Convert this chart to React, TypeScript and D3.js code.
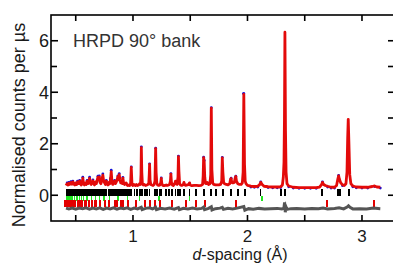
import React, { useEffect, useRef } from "react";
import * as d3 from "d3";

// calculated profile [d-spacing, counts]
const calcProfile: [number, number][] = [
  [0.415, 0.38], [0.425, 0.45], [0.432, 0.4], [0.44, 0.47], [0.448, 0.42], [0.458, 0.5], [0.466, 0.43],
  [0.475, 0.52], [0.483, 0.44], [0.492, 0.4], [0.5, 0.48], [0.508, 0.42], [0.516, 0.52], [0.524, 0.45],
  [0.534, 0.55], [0.541, 0.44], [0.549, 0.4], [0.556, 0.5], [0.562, 0.66], [0.568, 0.45], [0.576, 0.4],
  [0.584, 0.48], [0.592, 0.42], [0.6, 0.55], [0.607, 0.45], [0.614, 0.52], [0.621, 0.66], [0.627, 0.48],
  [0.634, 0.42], [0.642, 0.5], [0.65, 0.56], [0.657, 0.44], [0.664, 0.4], [0.672, 0.52], [0.68, 0.45],
  [0.688, 0.6], [0.694, 0.7], [0.7, 0.62], [0.706, 0.71], [0.712, 0.5], [0.72, 0.45], [0.728, 0.6],
  [0.737, 0.78], [0.744, 0.55], [0.752, 0.48], [0.76, 0.42], [0.767, 0.55], [0.774, 0.45], [0.782, 0.4],
  [0.79, 0.5], [0.798, 0.45], [0.804, 0.62], [0.81, 0.92], [0.816, 0.55], [0.823, 0.42], [0.831, 0.48],
  [0.839, 0.55], [0.846, 0.45], [0.853, 0.5], [0.861, 0.6], [0.868, 0.72], [0.874, 0.6], [0.88, 0.8],
  [0.886, 0.62], [0.893, 0.48], [0.9, 0.55], [0.907, 0.45], [0.912, 0.66], [0.918, 0.48], [0.925, 0.42],
  [0.933, 0.45], [0.941, 0.48], [0.948, 0.4], [0.956, 0.38], [0.965, 0.4], [0.972, 0.38], [0.979, 0.42],
  [0.985, 1.08], [0.991, 0.45], [0.998, 0.38], [1.007, 0.42], [1.014, 0.4], [1.022, 0.38], [1.03, 0.42],
  [1.04, 0.38], [1.05, 0.4], [1.058, 0.45], [1.066, 0.42], [1.07, 0.8], [1.073, 1.85], [1.077, 0.9],
  [1.082, 0.45], [1.09, 0.4], [1.1, 0.42], [1.11, 0.38], [1.121, 0.4], [1.13, 0.42], [1.138, 0.45],
  [1.142, 0.8], [1.145, 1.2], [1.149, 0.6], [1.155, 0.42], [1.165, 0.4], [1.175, 0.38], [1.185, 0.42],
  [1.192, 0.55], [1.195, 1.2], [1.198, 1.81], [1.202, 0.9], [1.208, 0.48], [1.215, 0.4], [1.225, 0.38],
  [1.235, 0.4], [1.243, 0.5], [1.247, 0.65], [1.252, 0.45], [1.26, 0.38], [1.27, 0.37], [1.28, 0.38],
  [1.29, 0.4], [1.3, 0.38], [1.31, 0.4], [1.32, 0.42], [1.327, 0.55], [1.331, 0.82], [1.336, 0.5],
  [1.343, 0.4], [1.352, 0.38], [1.36, 0.42], [1.367, 0.48], [1.371, 0.55], [1.376, 0.45], [1.385, 0.42],
  [1.393, 0.7], [1.397, 1.5], [1.401, 0.95], [1.407, 0.45], [1.415, 0.4], [1.425, 0.38], [1.44, 0.42],
  [1.445, 0.5], [1.45, 0.42], [1.46, 0.38], [1.475, 0.4], [1.489, 0.42], [1.494, 0.48], [1.499, 0.4],
  [1.515, 0.37], [1.535, 0.38], [1.555, 0.38], [1.575, 0.37], [1.595, 0.38], [1.608, 0.42], [1.613, 0.75],
  [1.617, 1.46], [1.622, 1.3], [1.627, 0.7], [1.633, 0.46], [1.64, 0.45], [1.648, 0.5], [1.66, 0.42],
  [1.672, 0.45], [1.679, 0.8], [1.684, 3.38], [1.689, 1.0], [1.696, 0.48], [1.705, 0.42], [1.72, 0.4],
  [1.735, 0.4], [1.75, 0.4], [1.765, 0.42], [1.775, 0.55], [1.78, 1.45], [1.785, 0.9], [1.792, 0.48],
  [1.8, 0.45], [1.815, 0.42], [1.83, 0.4], [1.845, 0.45], [1.852, 0.62], [1.857, 0.65], [1.863, 0.5],
  [1.872, 0.48], [1.885, 0.5], [1.893, 0.68], [1.898, 0.73], [1.904, 0.55], [1.915, 0.45], [1.93, 0.42],
  [1.945, 0.42], [1.955, 0.48], [1.962, 0.9], [1.968, 3.92], [1.974, 1.2], [1.98, 0.55], [1.987, 0.45],
  [2.0, 0.38], [2.03, 0.35], [2.06, 0.34], [2.09, 0.35], [2.105, 0.4], [2.116, 0.5], [2.128, 0.42],
  [2.145, 0.35], [2.18, 0.33], [2.22, 0.32], [2.26, 0.32], [2.29, 0.33], [2.305, 0.4], [2.313, 0.7],
  [2.319, 1.3], [2.323, 3.0], [2.327, 6.33], [2.332, 2.5], [2.337, 0.9], [2.345, 0.45], [2.36, 0.36],
  [2.4, 0.31], [2.45, 0.3], [2.5, 0.3], [2.55, 0.3], [2.6, 0.3], [2.63, 0.32], [2.645, 0.4], [2.655, 0.5],
  [2.665, 0.42], [2.68, 0.38], [2.7, 0.35], [2.73, 0.31], [2.76, 0.31], [2.778, 0.38], [2.79, 0.65],
  [2.796, 0.75], [2.803, 0.62], [2.815, 0.48], [2.83, 0.4], [2.845, 0.38], [2.86, 0.45], [2.869, 0.9],
  [2.875, 2.2], [2.88, 2.95], [2.886, 2.0], [2.893, 0.8], [2.903, 0.45], [2.92, 0.36], [2.95, 0.32],
  [3.0, 0.31], [3.05, 0.31], [3.09, 0.34], [3.11, 0.36], [3.13, 0.32], [3.16, 0.31],
];

// observed points (drawn as dots under the fit)
const obsPoints: [number, number][] = [
  [0.425, 0.48], [0.44, 0.5], [0.458, 0.53], [0.475, 0.55], [0.516, 0.55], [0.534, 0.58], [0.562, 0.7],
  [0.6, 0.58], [0.621, 0.7], [0.65, 0.6], [0.694, 0.74], [0.706, 0.75], [0.737, 0.83], [0.767, 0.58],
  [0.804, 0.65], [0.81, 0.97], [0.839, 0.58], [0.868, 0.75], [0.88, 0.84], [0.912, 0.69], [0.985, 1.1],
  [1.073, 1.88], [1.145, 1.22], [1.198, 1.83], [1.247, 0.67], [1.331, 0.84], [1.397, 1.52], [1.494, 0.46],
  [1.617, 1.48], [1.622, 1.35], [1.684, 3.4], [1.78, 1.47], [1.857, 0.66], [1.898, 0.74], [1.966, 3.95],
  [1.968, 3.95], [2.03, 0.32], [2.06, 0.31], [2.09, 0.32], [2.116, 0.52], [2.18, 0.3], [2.22, 0.29],
  [2.26, 0.29], [2.29, 0.3], [2.36, 0.33], [2.4, 0.28], [2.45, 0.27], [2.5, 0.27], [2.55, 0.27],
  [2.6, 0.27], [2.655, 0.52], [2.7, 0.32], [2.73, 0.28], [2.76, 0.28], [2.796, 0.77], [2.83, 0.37],
  [2.92, 0.33], [2.95, 0.29], [3.0, 0.28], [3.05, 0.28], [3.11, 0.34], [3.16, 0.28],
];

// difference curve (obs - calc, offset)
const diffProfile: [number, number][] = [
  [0.415, -0.5], [0.44, -0.53], [0.47, -0.5], [0.5, -0.54], [0.53, -0.5], [0.56, -0.52], [0.59, -0.49],
  [0.62, -0.54], [0.65, -0.5], [0.68, -0.53], [0.71, -0.49], [0.74, -0.55], [0.77, -0.5], [0.8, -0.53],
  [0.83, -0.49], [0.86, -0.54], [0.89, -0.5], [0.92, -0.52], [0.95, -0.49], [0.98, -0.55], [1.01, -0.5],
  [1.04, -0.53], [1.072, -0.47], [1.08, -0.56], [1.11, -0.51], [1.145, -0.49], [1.17, -0.53],
  [1.198, -0.47], [1.205, -0.56], [1.24, -0.51], [1.28, -0.53], [1.32, -0.5], [1.36, -0.54],
  [1.397, -0.48], [1.405, -0.56], [1.44, -0.51], [1.48, -0.53], [1.52, -0.5], [1.56, -0.53], [1.6, -0.51],
  [1.617, -0.46], [1.625, -0.56], [1.66, -0.51], [1.684, -0.45], [1.69, -0.57], [1.72, -0.52],
  [1.76, -0.5], [1.78, -0.47], [1.79, -0.55], [1.83, -0.51], [1.87, -0.53], [1.91, -0.5], [1.968, -0.44],
  [1.977, -0.58], [2.01, -0.52], [2.05, -0.54], [2.1, -0.51], [2.15, -0.53], [2.2, -0.52], [2.26, -0.51],
  [2.3, -0.53], [2.318, -0.5], [2.324, -0.28], [2.33, -0.66], [2.336, -0.45], [2.345, -0.55],
  [2.38, -0.52], [2.43, -0.51], [2.5, -0.53], [2.56, -0.51], [2.62, -0.52], [2.66, -0.5], [2.7, -0.53],
  [2.76, -0.51], [2.8, -0.49], [2.84, -0.53], [2.87, -0.46], [2.882, -0.41], [2.895, -0.47],
  [2.92, -0.53], [2.98, -0.52], [3.04, -0.53], [3.1, -0.5], [3.16, -0.52],
];

// reflection positions for the three phases
const blackTicks = [
  0.42, 0.428, 0.437, 0.445, 0.452, 0.461, 0.47, 0.478, 0.487, 0.495, 0.503, 0.512, 0.52, 0.529, 0.538,
  0.546, 0.555, 0.563, 0.571, 0.58, 0.589, 0.597, 0.606, 0.614, 0.623, 0.631, 0.64, 0.648, 0.657, 0.665,
  0.674, 0.683, 0.691, 0.7, 0.708, 0.717, 0.725, 0.734, 0.742, 0.751, 0.76, 0.768, 0.787, 0.795, 0.804,
  0.813, 0.822, 0.83, 0.839, 0.848, 0.857, 0.865, 0.874, 0.883, 0.891, 0.9, 0.909, 0.918, 0.926, 0.935,
  0.943, 0.955, 0.97, 0.985, 1.014, 1.034,
  1.058, 1.078, 1.107, 1.121, 1.145, 1.189, 1.209, 1.232, 1.247, 1.291, 1.314, 1.34, 1.372, 1.392, 1.41,
  1.445, 1.494, 1.553, 1.619, 1.625, 1.68, 1.728, 1.785, 1.855, 1.914, 1.977, 1.983, 2.114, 2.295, 2.33,
  2.653, 2.793, 2.807, 2.886,
];
const greenTicks = [
  0.42, 0.433, 0.446, 0.459, 0.472, 0.49, 0.511, 0.533, 0.551, 0.568, 0.597, 0.639, 0.673, 0.708, 0.747,
  0.796, 0.868, 0.953, 1.058, 1.226, 1.494, 2.126,
];
const redTicks = [
  0.403, 0.416, 0.429, 0.442, 0.455, 0.468, 0.481, 0.494, 0.516, 0.529, 0.542, 0.555, 0.577, 0.59, 0.612,
  0.643, 0.665, 0.679, 0.708, 0.752, 0.79, 0.839, 0.859, 0.898, 0.912, 0.955, 1.029, 1.101, 1.145, 1.189,
  1.232, 1.34, 1.466, 1.553, 1.63, 1.896, 2.693, 3.104,
];

const xMajorTicks = [1, 2, 3];
const xMinorTicks = [0.5, 1.5, 2.5];
const yMajorTicks = [0, 2, 4, 6];
const yMinorTicks = [1, 3, 5];
const yRightTicks = [0, 1, 2, 3, 4, 5, 6];

const width = 393;
const height = 265;
const font = "'Liberation Sans', Arial, sans-serif";

function App() {
  const ref = useRef<SVGSVGElement>(null);

  useEffect(() => {
    const svg = d3.select(ref.current);
    svg.selectAll("*").remove();

    const x = d3.scaleLinear().domain([0.284, 3.284]).range([51, 394.5]);
    const y = d3.scaleLinear().domain([-1, 7]).range([221, 15]);

    const line = d3
      .line<[number, number]>()
      .x((d) => x(d[0]))
      .y((d) => y(d[1]));

    // reflection markers
    const markerRows = [
      { ticks: blackTicks, color: "#000", top: 0.24, bottom: -0.02, w: 1.8 },
      { ticks: greenTicks, color: "#22e622", top: -0.02, bottom: -0.23, w: 1.5 },
      { ticks: redTicks, color: "#e30000", top: -0.2, bottom: -0.47, w: 2 },
    ];
    markerRows.forEach((row) => {
      svg
        .append("g")
        .attr("shape-rendering", "crispEdges")
        .selectAll("line")
        .data(row.ticks)
        .enter()
        .append("line")
        .attr("x1", (d) => x(d))
        .attr("x2", (d) => x(d))
        .attr("y1", y(row.top))
        .attr("y2", y(row.bottom))
        .attr("stroke", row.color)
        .attr("stroke-width", row.w);
    });

    // difference
    svg
      .append("path")
      .attr("d", line(diffProfile))
      .attr("fill", "none")
      .attr("stroke", "#555")
      .attr("stroke-width", 3);

    // observed dots, then calculated line
    svg
      .append("g")
      .selectAll("circle")
      .data(obsPoints)
      .enter()
      .append("circle")
      .attr("cx", (d) => x(d[0]))
      .attr("cy", (d) => y(d[1]))
      .attr("r", 1.4)
      .attr("fill", "#1010d8");
    svg
      .append("path")
      .attr("d", line(calcProfile))
      .attr("fill", "none")
      .attr("stroke", "#e30a0a")
      .attr("stroke-width", 2.8)
      .attr("stroke-linejoin", "round");

    // frame
    svg
      .append("rect")
      .attr("x", 51)
      .attr("y", 15)
      .attr("width", 394.5 - 51)
      .attr("height", 221 - 15)
      .attr("fill", "none")
      .attr("stroke", "#000")
      .attr("stroke-width", 1.6);

    const tickG = svg.append("g").attr("stroke", "#000").attr("stroke-width", 1.6);
    [...xMajorTicks, ...xMinorTicks].forEach((t) => {
      tickG.append("line").attr("x1", x(t)).attr("x2", x(t)).attr("y1", 221).attr("y2", 215);
      tickG.append("line").attr("x1", x(t)).attr("x2", x(t)).attr("y1", 15).attr("y2", 21);
    });
    yMajorTicks.forEach((t) => {
      tickG.append("line").attr("x1", 51).attr("x2", 58).attr("y1", y(t)).attr("y2", y(t));
    });
    yMinorTicks.forEach((t) => {
      tickG.append("line").attr("x1", 51).attr("x2", 57).attr("y1", y(t)).attr("y2", y(t));
    });
    yRightTicks.forEach((t) => {
      tickG.append("line").attr("x1", 394.5).attr("x2", 388).attr("y1", y(t)).attr("y2", y(t));
    });

    const labels = svg.append("g").attr("font-family", font).attr("fill", "#1a1a1a");
    yMajorTicks.forEach((t) => {
      labels
        .append("text")
        .attr("x", 49)
        .attr("y", y(t) + 6.5)
        .attr("text-anchor", "end")
        .attr("font-size", 18)
        .text(t);
    });
    xMajorTicks.forEach((t) => {
      labels
        .append("text")
        .attr("x", x(t))
        .attr("y", 242)
        .attr("text-anchor", "middle")
        .attr("font-size", 17)
        .text(t);
    });

    labels
      .append("text")
      .attr("transform", "translate(24.5,125) rotate(-90)")
      .attr("text-anchor", "middle")
      .attr("font-size", 18)
      .text("Normalised counts per µs");

    const xl = labels
      .append("text")
      .attr("x", 240)
      .attr("y", 260)
      .attr("text-anchor", "middle")
      .attr("font-size", 16);
    xl.append("tspan").attr("font-style", "italic").text("d");
    xl.append("tspan").text("-spacing (Å)");

    labels
      .append("text")
      .attr("x", 73)
      .attr("y", 47)
      .attr("font-size", 18)
      .attr("fill", "#333")
      .text("HRPD 90° bank");
  }, []);

  return (
    <svg
      ref={ref}
      width={width}
      height={height}
      style={{ position: "absolute", left: 0, top: 0, background: "#fff" }}
    />
  );
}

export default App;
